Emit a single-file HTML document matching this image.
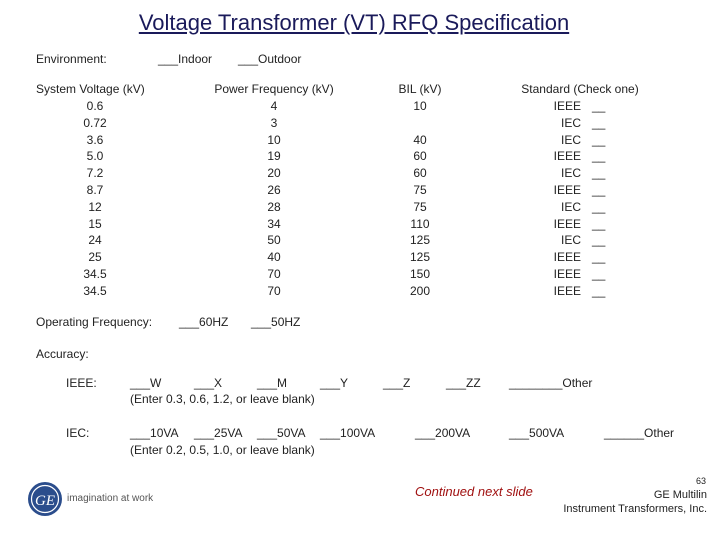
<!DOCTYPE html>
<html><head><meta charset="utf-8"><style>
body{margin:0;width:720px;height:540px;background:#fff;position:relative;overflow:hidden;font-family:"Liberation Sans",sans-serif;font-size:12px;color:#222}
.t{position:absolute;line-height:14px;white-space:nowrap}
.c{transform:translateX(-50%)}
.r{transform:translateX(-100%)}
</style></head><body>
<div class="t c" style="left:354px;top:10px;font-size:22px;line-height:26px;text-decoration:underline;color:#1a1a5a">Voltage Transformer (VT) RFQ Specification</div>
<div class="t" style="left:36px;top:52px">Environment:</div>
<div class="t" style="left:158px;top:52px">___Indoor</div>
<div class="t" style="left:238px;top:52px">___Outdoor</div>
<div class="t" style="left:36px;top:82px">System Voltage (kV)</div>
<div class="t c" style="left:274px;top:82px">Power Frequency (kV)</div>
<div class="t c" style="left:420px;top:82px">BIL (kV)</div>
<div class="t c" style="left:580px;top:82px">Standard (Check one)</div>
<div id="rows"></div>
<div class="t" style="left:36px;top:315px">Operating Frequency:</div>
<div class="t" style="left:179px;top:315px">___60HZ</div>
<div class="t" style="left:251px;top:315px">___50HZ</div>
<div class="t" style="left:36px;top:347px">Accuracy:</div>
<div class="t" style="left:66px;top:376px">IEEE:</div>
<div class="t" style="left:130px;top:376px">___W</div>
<div class="t" style="left:194px;top:376px">___X</div>
<div class="t" style="left:257px;top:376px">___M</div>
<div class="t" style="left:320px;top:376px">___Y</div>
<div class="t" style="left:383px;top:376px">___Z</div>
<div class="t" style="left:446px;top:376px">___ZZ</div>
<div class="t" style="left:509px;top:376px">________Other</div>
<div class="t" style="left:130px;top:392px">(Enter 0.3, 0.6, 1.2, or leave blank)</div>
<div class="t" style="left:66px;top:426px">IEC:</div>
<div class="t" style="left:130px;top:426px">___10VA</div>
<div class="t" style="left:194px;top:426px">___25VA</div>
<div class="t" style="left:257px;top:426px">___50VA</div>
<div class="t" style="left:320px;top:426px">___100VA</div>
<div class="t" style="left:415px;top:426px">___200VA</div>
<div class="t" style="left:509px;top:426px">___500VA</div>
<div class="t" style="left:604px;top:426px">______Other</div>
<div class="t" style="left:130px;top:443px">(Enter 0.2, 0.5, 1.0, or leave blank)</div>
<svg style="position:absolute;left:27px;top:481px" width="36" height="36"><circle cx="18" cy="18" r="17" fill="#2b4d8c"/><circle cx="18" cy="18" r="13.5" fill="none" stroke="#fff" stroke-width="1.2"/><text x="18" y="24" text-anchor="middle" fill="#fff" font-family="Liberation Serif" font-style="italic" font-size="15">GE</text></svg>
<div class="t" style="left:67px;top:492px;font-size:10px;color:#555">imagination at work</div>
<div class="t" style="left:415px;top:485px;color:#a01010;font-style:italic;font-size:13px">Continued next slide</div>
<div class="t r" style="left:706px;top:476px;font-size:9px;line-height:10px">63</div>
<div class="t r" style="left:707px;top:488px;font-size:11px">GE Multilin</div>
<div class="t r" style="left:707px;top:502px;font-size:11px">Instrument Transformers, Inc.</div>
<script>
const voltages=["0.6","0.72","3.6","5.0","7.2","8.7","12","15","24","25","34.5","34.5"];
const powerFreq=["4","3","10","19","20","26","28","34","50","40","70","70"];
const bil=["10","","40","60","60","75","75","110","125","125","150","200"];
const standards=["IEEE","IEC","IEC","IEEE","IEC","IEEE","IEC","IEEE","IEC","IEEE","IEEE","IEEE"];
const host=document.getElementById('rows');
function mk(txt,left,top,cls,name,inter){const d=document.createElement('div');d.className='t '+cls;d.style.left=left+'px';d.style.top=top+'px';d.textContent=txt;


host.appendChild(d);}
voltages.forEach((v,i)=>{const y=99+i*16.8;
mk(v,95,y,'c','system-voltage-value','false');
mk(powerFreq[i],274,y,'c','power-frequency-value','false');
if(bil[i])mk(bil[i],420,y,'c','bil-value','false');
mk(standards[i],581,y,'r','standard-value','false');
mk('__',592,y,'','standard-checkbox','true');});
</script>
</body></html>
